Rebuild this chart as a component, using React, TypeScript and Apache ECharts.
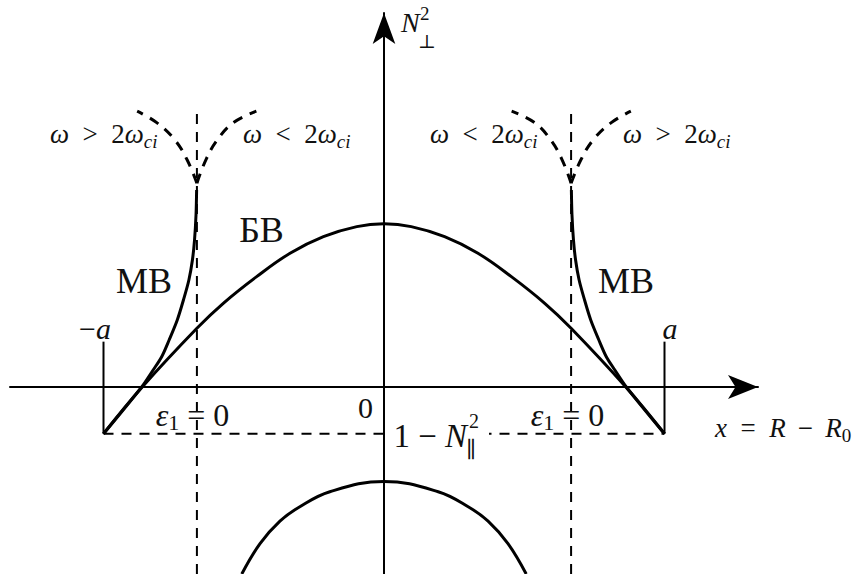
import React, { useEffect, useRef } from 'react';
import * as echarts from 'echarts';

// Axis ranges (x in units of a, y in units of |1 - N_par^2|)
const X_MIN = -4 / 3;
const X_MAX = 4 / 3;
const Y_MIN = -4;
const Y_MAX = 8;

// БВ (slow wave) curve
const BV_X = [-1, -0.862, -0.667, -0.573, -0.454, -0.335, -0.216, -0.097, 0, 0.097, 0.216, 0.335, 0.454, 0.573, 0.667, 0.862, 1];
const BV_Y = [-1, 0, 1.256, 1.79, 2.36, 2.86, 3.215, 3.43, 3.49, 3.43, 3.215, 2.86, 2.36, 1.79, 1.256, 0, -1];

// МВ (fast wave) curves
const MV_LEFT_X = [-1, -0.864, -0.823, -0.7925, -0.766, -0.737, -0.715, -0.6956, -0.683, -0.6755, -0.6702, -0.668];
const MV_LEFT_Y = [-1, 0, 0.364, 0.648, 1.005, 1.433, 1.861, 2.289, 2.717, 3.144, 3.679, 4.214];
const MV_RIGHT_X = [1, 0.864, 0.823, 0.7925, 0.766, 0.737, 0.715, 0.6956, 0.683, 0.6755, 0.6702, 0.668];
const MV_RIGHT_Y = [-1, 0, 0.364, 0.648, 1.005, 1.433, 1.861, 2.289, 2.717, 3.144, 3.679, 4.214];

// Dashed branches at the cusps
const CUSP_Y = [4.36, 4.86, 5.28, 5.65, 5.9];
const CUSP_LL_X = [-0.667, -0.702, -0.745, -0.809, -0.88];
const CUSP_LR_X = [-0.667, -0.635, -0.595, -0.538, -0.455];
const CUSP_RL_X = [0.667, 0.635, 0.595, 0.538, 0.455];
const CUSP_RR_X = [0.667, 0.702, 0.745, 0.809, 0.88];

// ε1 = 0 lines, boundary ±a, level 1 - N_par^2
const EPS_X = [-0.667, 0.667];
const EPS_Y = [-4, 6];
const A_X = [-1, 1];
const A_Y = [-1, 0.97];
const LEVEL_Y = -1;

// Lower arc
const ARC_X = [-0.507, -0.442, -0.371, -0.3, -0.193, 0, 0.193, 0.3, 0.371, 0.442, 0.507];
const ARC_Y = [-4, -3.35, -2.87, -2.56, -2.24, -2.02, -2.24, -2.56, -2.87, -3.35, -4];

const zip = (xs: number[], ys: number[]) => xs.map((x, i) => [x, ys[i]]);

const FONT = '"Liberation Serif", "DejaVu Serif", serif';
const INK = '#111';
const EN = '\u2002';

const lineSeries = (data: number[][], width: number, dashed: boolean, smooth: number | boolean) => ({
  type: 'line',
  data,
  symbol: 'none',
  showSymbol: false,
  smooth,
  silent: true,
  animation: false,
  lineStyle: { color: '#000', width, type: dashed ? [10, 8] : 'solid', cap: 'butt' },
});

const txt = (
  x: number,
  y: number,
  text: string,
  fontSize: number,
  align: string,
  extra: any = {}
) => ({
  type: 'text',
  x,
  y,
  z: 20,
  silent: true,
  style: {
    text,
    fontFamily: FONT,
    fontSize,
    fill: INK,
    align,
    textAlign: align,
    verticalAlign: 'middle',
    textVerticalAlign: 'middle',
    ...extra,
  },
});

const mathRich = (m: number, s: number, lh: number) => ({
  i: { fontFamily: FONT, fontSize: m, fontStyle: 'italic', lineHeight: lh, fill: INK },
  s: { fontFamily: FONT, fontSize: s, fontStyle: 'italic', lineHeight: lh, verticalAlign: 'bottom', height: s, fill: INK },
  n: { fontFamily: FONT, fontSize: s, lineHeight: lh, verticalAlign: 'bottom', height: s, fill: INK },
});

const omegaLabel = (x: number, rel: string) =>
  txt(x, 134, `{i|ω}${EN}${rel}${EN}2{i|ω}{s|ci}`, 27, 'left', { lineHeight: 33, rich: mathRich(27, 19, 33) });

export default function App() {
  const ref = useRef<HTMLDivElement>(null);
  useEffect(() => {
    document.body.style.margin = '0';
    const chart = echarts.init(ref.current!, null, { renderer: 'svg' });
    const option: any = {
      animation: false,
      backgroundColor: '#fff',
      grid: { left: 10, right: 101, top: 13, bottom: 0, containLabel: false },
      xAxis: {
        type: 'value',
        min: X_MIN,
        max: X_MAX,
        axisLine: {
          show: true,
          onZero: true,
          symbol: ['none', 'arrow'],
          symbolSize: [18, 30],
          lineStyle: { color: '#000', width: 2 },
        },
        axisTick: { show: false },
        axisLabel: { show: false },
        splitLine: { show: false },
      },
      yAxis: {
        type: 'value',
        min: Y_MIN,
        max: Y_MAX,
        axisLine: {
          show: true,
          onZero: true,
          symbol: ['none', 'arrow'],
          symbolSize: [17, 31],
          lineStyle: { color: '#000', width: 2 },
        },
        axisTick: { show: false },
        axisLabel: { show: false },
        splitLine: { show: false },
      },
      series: [
        lineSeries(zip([EPS_X[0], EPS_X[0]], EPS_Y), 2, true, false),
        lineSeries(zip([EPS_X[1], EPS_X[1]], EPS_Y), 2, true, false),
        lineSeries(zip(A_X, [LEVEL_Y, LEVEL_Y]), 2, true, false),
        lineSeries(zip([A_X[0], A_X[0]], A_Y), 2, false, false),
        lineSeries(zip([A_X[1], A_X[1]], A_Y), 2, false, false),
        lineSeries(zip(BV_X, BV_Y), 3, false, 0.4),
        lineSeries(zip(MV_LEFT_X, MV_LEFT_Y), 3, false, 0.3),
        lineSeries(zip(MV_RIGHT_X, MV_RIGHT_Y), 3, false, 0.3),
        lineSeries(zip(CUSP_LL_X, CUSP_Y), 3, true, 0.4),
        lineSeries(zip(CUSP_LR_X, CUSP_Y), 3, true, 0.4),
        lineSeries(zip(CUSP_RL_X, CUSP_Y), 3, true, 0.4),
        lineSeries(zip(CUSP_RR_X, CUSP_Y), 3, true, 0.4),
        lineSeries(zip(ARC_X, ARC_Y), 3, false, 0.4),
      ],
      graphic: {
        elements: [
          // blank behind the 1 - N_par^2 label
          { type: 'rect', z: 15, silent: true, shape: { x: 389, y: 429, width: 100, height: 12 }, style: { fill: '#fff' } },
          // N_perp^2
          txt(401, 22.5, 'N', 28, 'left', { fontStyle: 'italic' }),
          txt(420, 13.6, '2', 19, 'left'),
          txt(418, 41, '⊥', 19, 'left'),
          // omega labels
          omegaLabel(50, '>'),
          omegaLabel(243, '<'),
          omegaLabel(430, '<'),
          omegaLabel(623, '>'),
          // wave labels
          txt(261.5, 230, 'БВ', 36, 'center'),
          txt(144, 281, 'МВ', 36, 'center'),
          txt(626, 281, 'МВ', 36, 'center'),
          // boundaries
          txt(95, 328, '−{i|a}', 30, 'center', { rich: mathRich(30, 20, 36) }),
          txt(670, 328, '{i|a}', 30, 'center', { rich: mathRich(30, 20, 36) }),
          // epsilon labels
          txt(192.5, 415, '{i|ε}{n|1} = 0', 32, 'center', { lineHeight: 37, rich: mathRich(32, 22, 37) }),
          txt(567.5, 415, '{i|ε}{n|1} = 0', 32, 'center', { lineHeight: 37, rich: mathRich(32, 22, 37) }),
          // origin
          txt(365.5, 407, '0', 30, 'center'),
          // 1 - N_par^2
          txt(467, 436, '1 − {i|N}', 33, 'right', { rich: mathRich(33, 22, 38) }),
          txt(469, 421, '2', 20, 'left'),
          txt(466, 449, '∥', 22, 'left'),
          // x = R - R0
          txt(715, 428, `{i|x}${EN}=${EN}{i|R}\u2009 − \u2009{i|R}{n|0}`, 27, 'left', { lineHeight: 33, rich: mathRich(27, 19, 33) }),
        ],
      },
    };
    chart.setOption(option);
    return () => chart.dispose();
  }, []);
  return <div ref={ref} style={{ width: 859, height: 574 }} />;
}
